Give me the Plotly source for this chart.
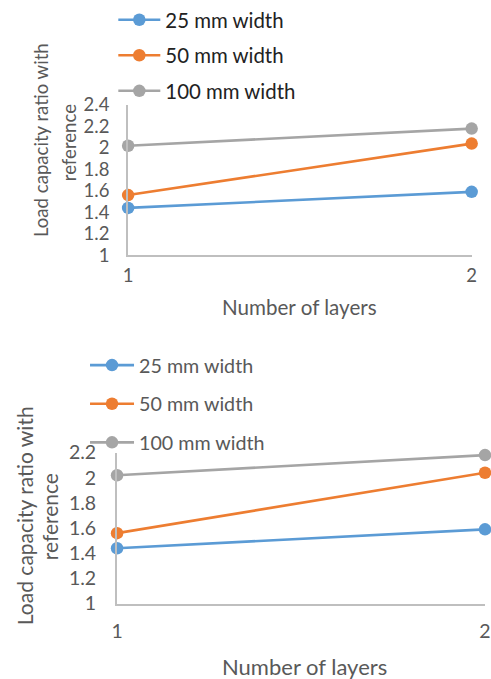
import plotly.graph_objects as go

W, H = 491, 679

layers = [1, 2]
series_names = ["25 mm width", "50 mm width", "100 mm width"]
vals_25 = [1.44, 1.59]
vals_50 = [1.56, 2.04]
vals_100 = [2.02, 2.18]
colors = ["#5B9BD5", "#ED7D31", "#A5A5A5"]

y_ticks_top = [1, 1.2, 1.4, 1.6, 1.8, 2, 2.2, 2.4]
y_ticks_bottom = [1, 1.2, 1.4, 1.6, 1.8, 2, 2.2]
x_ticks = [1, 2]
y_title_l1 = "Load capacity ratio with"
y_title_l2 = "reference"
x_title = "Number of layers"

FONT = "Lato"
series_vals = [vals_25, vals_50, vals_100]

# the page is photographed with an 8px body margin and scaled to fit the window
SX = W / (W + 16.0)
SY = H / (H + 16.0)


def fx(t):
    return t / SX - 8


def fy(t):
    return t / SY - 8


def px(t):
    return max(0.0, min(1.0, fx(t) / W))


def py(t):
    return max(0.0, min(1.0, 1 - fy(t) / H))


fig = go.Figure()
for i, (name, v, c) in enumerate(zip(series_names, series_vals, colors)):
    fig.add_trace(go.Scatter(
        x=layers, y=v, name=name, mode="lines+markers",
        line=dict(color=c, width=2.6), marker=dict(color=c, size=12.5),
        xaxis="x", yaxis="y", legend="legend", legendgroup="t%d" % i,
        cliponaxis=False))
for i, (name, v, c) in enumerate(zip(series_names, series_vals, colors)):
    fig.add_trace(go.Scatter(
        x=layers, y=v, name=name, mode="lines+markers",
        line=dict(color=c, width=2.6), marker=dict(color=c, size=12.5),
        xaxis="x2", yaxis="y2", legend="legend2", legendgroup="b%d" % i,
        cliponaxis=False))

axis_common = dict(showgrid=False, zeroline=False, showline=True, linecolor="#BFBFBF",
                   linewidth=2, ticks="", color="#595959")

tick_top = dict(family=FONT, size=18.5, color="#595959")
tick_bot = dict(family=FONT, size=19.5, color="#595959")

fig.update_layout(
    width=W, height=H, margin=dict(l=0, r=0, t=0, b=0),
    paper_bgcolor="white", plot_bgcolor="white",
    xaxis=dict(domain=[px(129), px(470)], range=[1, 2], anchor="y",
               tickvals=x_ticks, ticktext=[str(t) for t in x_ticks],
               tickfont=tick_top, ticklabelstandoff=3, **axis_common),
    yaxis=dict(domain=[py(253), py(101)], range=[1, 2.4], anchor="x",
               tickvals=y_ticks_top, ticktext=[("%g" % t) for t in y_ticks_top],
               tickfont=tick_top, ticklabelstandoff=13, **axis_common),
    xaxis2=dict(domain=[px(118), px(487)], range=[1, 2], anchor="y2",
                tickvals=x_ticks, ticktext=[str(t) for t in x_ticks],
                tickfont=tick_bot, ticklabelstandoff=9, ticklabeloverflow="allow",
                **axis_common),
    yaxis2=dict(domain=[py(606), py(453)], range=[1, 2.2], anchor="x2",
                tickvals=y_ticks_bottom, ticktext=[("%g" % t) for t in y_ticks_bottom],
                tickfont=tick_bot, ticklabelstandoff=15, **axis_common),
    legend=dict(x=110 / W, y=1 + 13.5 / H, xanchor="left", yanchor="top",
                bgcolor="rgba(0,0,0,0)", tracegroupgap=6, itemwidth=42,
                font=dict(family=FONT, size=20.4, color="#222222")),
    legend2=dict(x=81 / W, y=1 - 345 / H, xanchor="left", yanchor="top",
                 bgcolor="rgba(0,0,0,0)", tracegroupgap=10, itemwidth=44,
                 font=dict(family=FONT, size=19.7, color="#595959")),
    showlegend=True,
)

ann = []
ann.append(dict(text=x_title, x=px(299), y=py(306), font=dict(family=FONT, size=20.6, color="#595959")))
ann.append(dict(text=x_title, x=px(304), y=py(670), font=dict(family=FONT, size=22, color="#595959")))
ann.append(dict(text=y_title_l1, x=px(42), y=py(137), textangle=-90, font=dict(family=FONT, size=18.6, color="#595959")))
ann.append(dict(text=y_title_l2, x=px(70), y=py(139), textangle=-90, font=dict(family=FONT, size=18.6, color="#595959")))
ann.append(dict(text=y_title_l1, x=px(26), y=py(517), textangle=-90, font=dict(family=FONT, size=21, color="#595959")))
ann.append(dict(text=y_title_l2, x=px(51), y=py(518), textangle=-90, font=dict(family=FONT, size=21, color="#595959")))
for a in ann:
    a.update(xref="paper", yref="paper", showarrow=False, xanchor="center", yanchor="middle")
fig.update_layout(annotations=ann)

fig.write_html("out.html")
